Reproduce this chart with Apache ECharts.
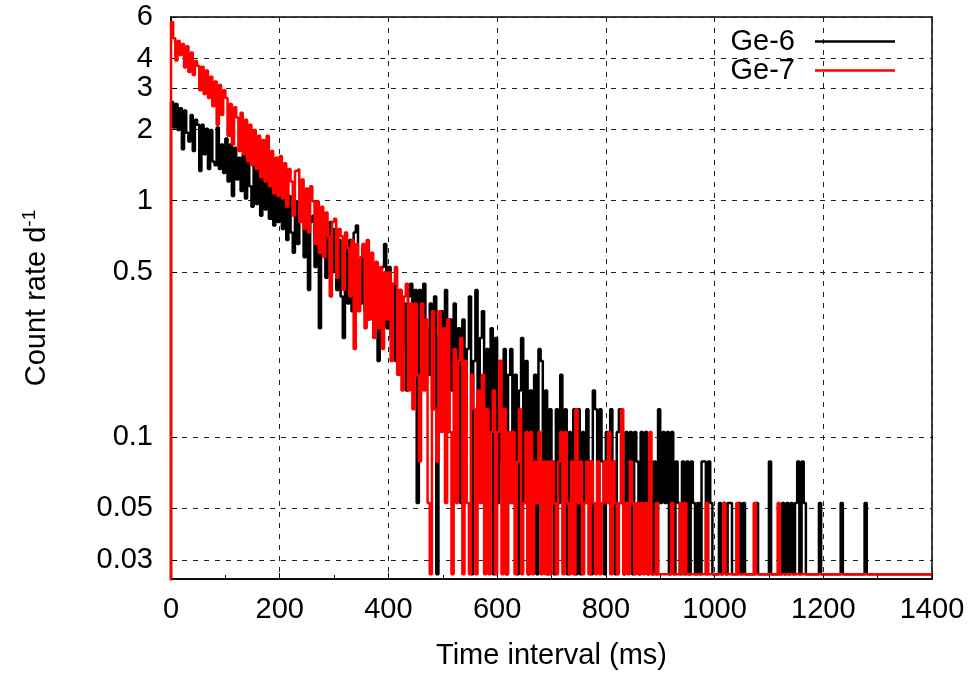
<!DOCTYPE html>
<html>
<head>
<meta charset="utf-8">
<title>Count rate vs time interval</title>
<script src="https://cdn.jsdelivr.net/npm/echarts@6/dist/echarts.min.js"></script>
<style>
    html, body { margin: 0; padding: 0; background: #fff; }
    #chart1 { width: 971px; height: 673px; }
</style>
</head>
<body>
<div id="chart1"></div>
<script>
// histogram: 4 ms bins, values are counts per bin
var binWidth = 4
var countRate = 0.0262 // d^-1 for one count
var yTicks = [0.03, 0.05, 0.1, 0.5, 1, 2, 3, 4, 6]
var seriesNames = ['Ge-6', 'Ge-7']

// first entry is the point below the axis at t = 0
var ge6Counts = [0.5,
    100, 78, 98, 76, 94, 63, 92, 74, 68, 88, 62, 84, 80, 51, 80, 60, 77, 52, 76, 56, 54, 78, 52, 66, 50,
    70, 46, 66, 40, 64, 47, 58, 42, 60, 39, 56, 44, 36, 54, 37, 52, 33, 51, 35, 48, 32, 46, 30, 44, 31,
    44, 29, 41, 26, 40, 28, 23, 38, 25, 35, 32, 22, 34, 16, 31, 33, 20, 30, 11, 28, 30, 18, 27, 31, 19,
    29, 16, 26, 15, 10, 25, 14, 26, 13, 28, 30, 15, 14, 24, 13, 12, 22, 13, 12, 21, 8, 13, 20, 25, 11,
    20, 10, 17, 8, 15, 16, 9, 14, 6, 15, 17, 9, 16, 2, 16, 8, 17, 11, 7, 14, 5, 15, 1, 10, 13,
    8, 16, 4, 12, 6, 14, 3, 11, 2, 12, 5, 9, 15, 1, 8, 16, 3, 10, 13, 2, 9, 4, 11, 1, 10,
    2, 8, 3, 9, 1, 7, 9, 2, 7, 1, 6, 10, 2, 8, 1, 6, 2, 7, 1, 9, 8, 2, 6, 1, 5,
    3, 1, 5, 2, 7, 2, 5, 1, 4, 2, 5, 1, 5, 1, 4, 2, 5, 3, 1, 6, 5, 2, 5, 3, 1,
    4, 2, 5, 3, 1, 4, 5, 2, 1, 4, 2, 4, 1, 4, 3, 1, 4, 2, 4, 1, 3, 1, 3, 1, 5,
    2, 4, 2, 4, 1, 4, 1, 3, 2, 1, 3, 1, 3, 1, 3, 2, 1, 2, 1, 3, 3, 1, 3, 2, 1,
    1, 1, 2, 1, 2, 1, 2, 2, 1, 1, 1, 2, 1, 2, 1, 1, 1, 1, 1, 2, 1, 1, 1, 1, 1,
    3, 1, 1, 1, 1, 1, 2, 1, 2, 1, 2, 1, 2, 3, 1, 3, 2, 1, 1, 1, 1, 1, 1, 2, 1,
    1, 1, 1, 1, 1, 1, 1, 1, 2, 1, 1, 1, 1, 1, 1, 1, 1, 1, 1, 2, 1, 1, 1, 1, 1,
    1, 1, 1, 1, 1, 1, 1, 1, 1, 1, 1, 1, 1, 1, 1, 1, 1, 1, 1, 1, 1, 1, 1, 1, 1
]

var ge7Counts = [0.5,
    218, 186, 150, 181, 158, 176, 140, 172, 134, 162, 130, 149, 142, 112, 141, 108, 136, 104, 128, 96, 122, 80, 118, 88, 112,
    104, 72, 98, 66, 95, 86, 62, 90, 60, 84, 56, 80, 54, 76, 52, 72, 48, 69, 46, 72, 44, 62, 41, 58, 40,
    59, 39, 55, 36, 52, 46, 33, 51, 52, 31, 47, 29, 43, 28, 44, 38, 25, 38, 23, 36, 22, 34, 27, 15, 31,
    32, 18, 29, 27, 16, 28, 24, 15, 26, 9, 25, 13, 22, 25, 11, 26, 12, 23, 10, 21, 11, 20, 9, 19, 12,
    19, 8, 17, 20, 7, 16, 6, 15, 17, 6, 14, 5, 14, 7, 3, 14, 6, 12, 2, 1, 13, 5, 3, 13, 4,
    11, 2, 12, 4, 1, 9, 2, 8, 10, 1, 8, 2, 1, 7, 5, 1, 6, 2, 7, 1, 5, 1, 4, 6, 1,
    4, 8, 1, 5, 1, 4, 2, 4, 1, 3, 5, 1, 2, 4, 1, 4, 1, 3, 2, 4, 1, 3, 1, 3, 1,
    3, 2, 1, 3, 4, 1, 4, 2, 1, 3, 1, 5, 2, 3, 1, 2, 3, 1, 3, 2, 1, 3, 1, 2, 3,
    2, 4, 1, 3, 2, 1, 2, 5, 1, 2, 1, 3, 2, 1, 2, 1, 2, 1, 2, 1, 4, 1, 1, 2, 1,
    1, 1, 1, 1, 1, 2, 1, 1, 1, 2, 1, 2, 1, 1, 1, 1, 1, 1, 1, 1, 1, 2, 1, 1, 1,
    1, 1, 1, 1, 2, 1, 1, 1, 1, 1, 2, 1, 1, 1, 1, 1, 1, 1, 2, 1, 1, 1, 1, 1, 1,
    1, 1, 1, 1, 2, 1, 1, 1, 1, 1, 1, 1, 1, 1, 1, 1, 1, 1, 1, 1, 1, 1, 1, 1, 1,
    1, 1, 1, 1, 1, 1, 1, 1, 1, 1, 1, 1, 1, 1, 1, 1, 1, 1, 1, 1, 1, 1, 1, 1, 1,
    1, 1, 1, 1, 1, 1, 1, 1, 1, 1, 1, 1, 1, 1, 1, 1, 1, 1, 1, 1, 1, 1, 1, 1, 1
]

var fontFamily = '"Liberation Sans", Arial, sans-serif'

// y is drawn on a log10 scale
function _toPoints (counts) {
    return counts.map(function (c, i) {
        return [i * binWidth, Math.log10(c * countRate)]
    })
}

function _tickLabel (v) {
    var best = yTicks[0]
    yTicks.forEach(function (t) {
        if (Math.abs(Math.log10(t) - v) < Math.abs(Math.log10(best) - v)) best = t
    })
    return String(best)
}

function _initChart () {
    var myChart = echarts.init(document.getElementById('chart1'))
    var yLogTicks = yTicks.map(function (t) { return Math.log10(t) })
    var gridLine = { color: '#222', width: 1, type: [5, 6] }
    var option = {
        animation: false,
        backgroundColor: '#fff',
        textStyle: { fontFamily: fontFamily },
        grid: {
            left: 171,
            right: 39,
            top: 17,
            bottom: 94,
            show: true,
            borderColor: '#000',
            borderWidth: 1.5,
            containLabel: false,
            outerBoundsMode: 'none'
        },
        legend: {
            orient: 'vertical',
            right: 76,
            top: 27,
            padding: 0,
            itemGap: 0,
            align: 'right',
            icon: 'rect',
            itemWidth: 80,
            itemHeight: 2.5,
            textStyle: {
                fontSize: 29,
                color: '#000',
                lineHeight: 29,
                padding: [0, 15, 0, 0]
            },
            data: seriesNames
        },
        xAxis: {
            type: 'value',
            min: 0,
            max: 1400,
            interval: 200,
            name: 'Time interval (ms)',
            nameLocation: 'middle',
            nameGap: 62,
            nameTextStyle: { fontSize: 29, color: '#000' },
            axisLine: { onZero: false, lineStyle: { color: '#000', width: 1.5 } },
            axisTick: { inside: true, length: 6, lineStyle: { color: '#000' } },
            minorTick: { show: true, splitNumber: 2, length: 4, lineStyle: { color: '#000' } },
            axisLabel: {
                fontSize: 29,
                color: '#000',
                margin: 16,
                formatter: function (v) { return String(v) }
            },
            splitLine: { show: true, lineStyle: gridLine }
        },
        yAxis: {
            type: 'value',
            min: Math.log10(0.025),
            max: Math.log10(6),
            name: 'Count rate d{sup|-1}',
            nameLocation: 'middle',
            nameGap: 117,
            nameTextStyle: {
                fontSize: 29,
                color: '#000',
                lineHeight: 34,
                rich: {
                    sup: { fontSize: 19, color: '#000', verticalAlign: 'top', lineHeight: 34 }
                }
            },
            axisLine: { onZero: false, lineStyle: { color: '#000', width: 1.5 } },
            axisTick: { inside: true, length: 6, customValues: yLogTicks, lineStyle: { color: '#000' } },
            axisLabel: {
                fontSize: 29,
                color: '#000',
                margin: 18,
                customValues: yLogTicks,
                formatter: _tickLabel
            },
            splitLine: { show: true, lineStyle: gridLine }
        },
        series: [
            {
                name: seriesNames[0],
                type: 'line',
                step: 'start',
                symbol: 'none',
                clip: true,
                lineStyle: { color: '#000000', width: 2.5 },
                itemStyle: { color: '#000000' },
                data: _toPoints(ge6Counts)
            },
            {
                name: seriesNames[1],
                type: 'line',
                step: 'start',
                symbol: 'none',
                clip: true,
                lineStyle: { color: '#ff0000', width: 2.5 },
                itemStyle: { color: '#ff0000' },
                data: _toPoints(ge7Counts)
            }
        ]
    }
    myChart.setOption(option)
}

_initChart()
</script>
</body>
</html>
